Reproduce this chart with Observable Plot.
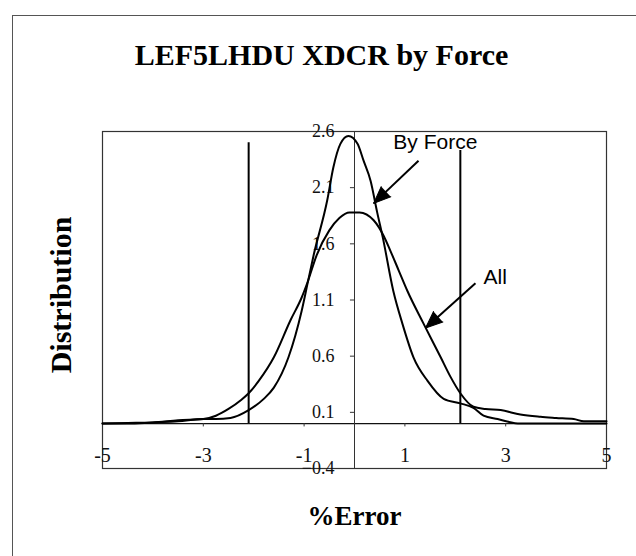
<!DOCTYPE html>
<html><head><meta charset="utf-8">
<script src="https://cdn.jsdelivr.net/npm/d3@7"></script>
<script src="https://cdn.jsdelivr.net/npm/@observablehq/plot@0.6"></script>
<style>
body{margin:0;background:#fff;}
#wrap{position:relative;width:636px;height:556px;overflow:hidden;}
#border{position:absolute;left:12px;top:15px;width:700px;height:700px;border-left:1px solid #555;border-top:1px solid #555;}
#chart{position:absolute;left:0;top:0;}
</style>
</head><body>
<div id="wrap"><div id="border"></div><div id="chart"></div></div>
<script>
const titleText = "LEF5LHDU XDCR by Force";
const xLabel = "%Error";
const yLabel = "Distribution";

// "All" distribution (wider curve)
const allX = [-5, -4.5, -4, -3.5, -3, -2.75, -2.5, -2.25, -2.1, -1.9, -1.6, -1.27, -1.05, -0.93, -0.75, -0.5, -0.3, -0.1, 0.1, 0.38, 0.58, 0.71, 0.88, 1.05, 1.37, 1.71, 1.9, 2.1, 2.36, 2.6, 2.9, 3.29, 3.69, 4.0, 4.35, 4.55, 5];
const allY = [0.0, 0.005, 0.01, 0.03, 0.04, 0.07, 0.13, 0.21, 0.27, 0.38, 0.59, 0.92, 1.12, 1.26, 1.5, 1.72, 1.83, 1.88, 1.88, 1.81, 1.67, 1.54, 1.36, 1.18, 0.89, 0.59, 0.42, 0.27, 0.15, 0.13, 0.12, 0.08, 0.06, 0.05, 0.04, 0.02, 0.02];

// "By Force" distribution (taller curve)
const forceX = [-5, -4.5, -4, -3.5, -3, -2.75, -2.46, -2.1, -1.8, -1.6, -1.31, -1.05, -0.93, -0.81, -0.54, -0.42, -0.28, -0.12, 0.06, 0.18, 0.32, 0.45, 0.56, 0.77, 0.95, 1.17, 1.45, 1.77, 2.1, 2.36, 2.56, 2.84, 3.29, 4, 5];
const forceY = [0.0, 0.0, 0.01, 0.02, 0.04, 0.04, 0.05, 0.12, 0.22, 0.32, 0.59, 1.0, 1.25, 1.5, 1.99, 2.28, 2.49, 2.56, 2.49, 2.34, 2.16, 1.88, 1.66, 1.18, 0.89, 0.59, 0.38, 0.22, 0.18, 0.14, 0.07, 0.04, 0.0, 0.0, 0.0];

const xTicks = [-5, -3, -1, 1, 3, 5];
const yTicks = [-0.4, 0.1, 0.6, 1.1, 1.6, 2.1, 2.6];
const limitX = [-2.1, 2.1];
const limitTop = [2.5, 2.43];

const labelNames = ["By Force", "All"];
const labelX = [0.77, 2.56];
const labelY = [2.44, 1.24];
const arrowFromX = [1.27, 2.40];
const arrowFromY = [2.34, 1.25];
const arrowToX = [0.38, 1.41];
const arrowToY = [1.96, 0.85];

const allData = allX.map((x, i) => ({x, y: allY[i]}));
const forceData = forceX.map((x, i) => ({x, y: forceY[i]}));
const limits = limitX.map((x, i) => ({x, top: limitTop[i]}));
const labels = labelNames.map((t, i) => ({t, x: labelX[i], y: labelY[i]}));
const arrows = labelNames.map((t, i) => ({x1: arrowFromX[i], y1: arrowFromY[i], x2: arrowToX[i], y2: arrowToY[i]}));

const serif = "'Liberation Serif', 'Times New Roman', serif";
const sans = "'Liberation Sans', Arial, sans-serif";

function build(heads) {
  return Plot.plot({
    width: 636,
    height: 556,
    marginLeft: 102,
    marginRight: 30,
    marginTop: 131,
    marginBottom: 88,
    x: {domain: [-5, 5], axis: null},
    y: {domain: [-0.4, 2.6], axis: null},
    style: {background: "transparent", fontFamily: serif},
    marks: [
      Plot.frame({stroke: "#333", strokeWidth: 1.2}),
      Plot.ruleY([0], {stroke: "#111", strokeWidth: 1.2}),
      Plot.ruleX([0], {stroke: "#333", strokeWidth: 1}),
      Plot.ruleX(xTicks, {y1: 0, y2: -0.03, stroke: "#333"}),
      Plot.ruleY(yTicks, {x1: -0.08, x2: 0, stroke: "#333"}),
      Plot.text(xTicks, {x: d => d, y: 0, dy: 32, text: d => String(d), fontSize: 20, fontFamily: serif, fill: "#111"}),
      Plot.text(yTicks, {x: 0, y: d => d, dx: -20, textAnchor: "end", text: d => d3.format(".1f")(d), fontSize: 18, fontFamily: serif, fill: "#111"}),
      Plot.ruleX(limits, {x: "x", y1: 0, y2: "top", stroke: "#000", strokeWidth: 2}),
      Plot.line(allData, {x: "x", y: "y", stroke: "#000", strokeWidth: 2, curve: "monotone-x"}),
      Plot.line(forceData, {x: "x", y: "y", stroke: "#000", strokeWidth: 2, curve: "monotone-x"}),
      Plot.link(arrows, {x1: "x1", y1: "y1", x2: "x2", y2: "y2", stroke: "#000", strokeWidth: 2}),
      Plot.vector(heads, {x: "x", y: "y", rotate: "r", length: 17, r: 7, shape: "spike", anchor: "end", fill: "#000", stroke: "#000", strokeWidth: 1}),
      Plot.text(labels, {x: "x", y: "y", text: "t", textAnchor: "start", lineAnchor: "bottom", fontSize: 21, fontFamily: sans, fill: "#000"}),
      Plot.text([titleText], {frameAnchor: "top", dx: -33, dy: -67, lineAnchor: "bottom", textAnchor: "middle", text: d => d, fontSize: 30, fontWeight: "bold", fontFamily: serif, fill: "#000"}),
      Plot.text([xLabel], {frameAnchor: "bottom", dy: 56, lineAnchor: "bottom", textAnchor: "middle", text: d => d, fontSize: 27, fontWeight: "bold", fontFamily: serif, fill: "#000"}),
      Plot.text([yLabel], {frameAnchor: "left", dx: -41, dy: -5, rotate: -90, textAnchor: "middle", lineAnchor: "middle", text: d => d, fontSize: 30, fontWeight: "bold", fontFamily: serif, fill: "#000"})
    ]
  });
}

// first pass to obtain the plot's own scales, then orient filled arrowheads
const probe = build([]);
const sx = probe.scale("x"), sy = probe.scale("y");
const heads = arrows.map(a => {
  const dx = sx.apply(a.x2) - sx.apply(a.x1);
  const dy = sy.apply(a.y2) - sy.apply(a.y1);
  return {x: a.x2, y: a.y2, r: Math.atan2(dx, -dy) * 180 / Math.PI};
});
const chart = build(heads);
document.getElementById("chart").appendChild(chart);
</script>
</body></html>
